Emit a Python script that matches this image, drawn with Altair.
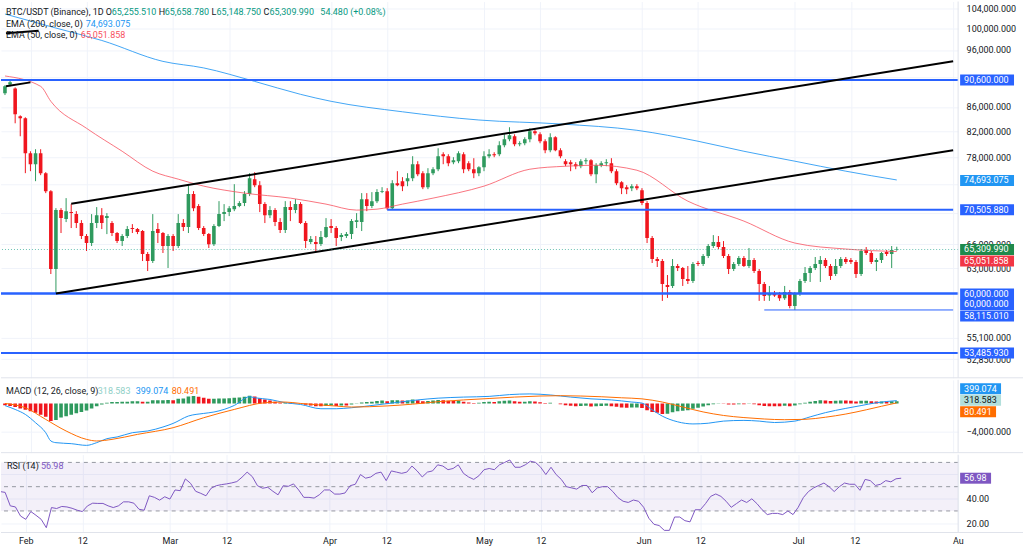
import altair as alt
import numpy as np
import pandas as pd

FONT = "Roboto"
TXT = "#131722"
GRID = "#f0f3fa"
SEP = "#e0e3eb"
UP = "#2f9a5e"
DOWN = "#f0161e"
LEVEL = "#2962ff"
EMA200_C = "#2196f3"
EMA50_C = "#f7525f"

# ---------------- daily candles from 2026-01-27 ----------------
opens = [88290, 89830, 89140, 84460, 84140, 78650, 77000, 78650, 75680, 73100,
         62900, 70470, 69260, 70200, 69930, 68730, 67030, 66130, 68730, 69790,
         69390, 68730, 67420, 66380, 67030, 68070, 67940, 67680, 64740, 63870,
         67940, 67420, 65750, 67030, 65750, 68730, 68200, 72680, 71015, 68070,
         67280, 65990, 68330, 69930, 70200, 70600, 71015, 71430, 72680, 74800,
         73950, 71290, 69790, 70470, 68860, 67810, 70880, 70470, 71290, 68730,
         66250, 66250, 66000, 66900, 68330, 68070, 66900, 67030, 67280, 68860,
         68860, 71980, 71015, 71700, 72960, 73100, 70740, 74230, 74520, 74520,
         74950, 77000, 75680, 73660, 75680, 76260, 78500, 78200, 77300, 77450,
         78500, 77150, 76260, 75680, 76560, 78200, 78500, 78500, 79870, 80800,
         81270, 80020, 80180, 80800, 82060, 81580, 80490, 79100, 81110, 79100,
         77450, 77300, 77000, 76700, 77450, 77600, 75530, 76850, 77150, 77150,
         75970, 74380, 73660, 73520, 73800, 73240, 71430, 66770, 64120, 63870,
         60990, 60870, 63260, 63020, 61700, 61460, 63630, 63510, 64490, 65750,
         66250, 65620, 64490, 62900, 63510, 64240, 63260, 64000, 62650, 61100,
         59770, 60000, 59880, 59430, 60170, 58570, 59940, 61460, 62410, 63020,
         63510, 64000, 63260, 62290, 63260, 64120, 64000, 63750, 62290, 65240,
         64870, 63750, 64000, 64990, 64740, 65255.51]
highs = [89700, 90530, 89310, 84620, 84300, 78950, 79260, 79260, 75830, 73240,
         70740, 70740, 72120, 71290, 70330, 69120, 67280, 69930, 70880, 70740,
         70060, 68990, 67550, 67280, 68330, 68590, 68070, 67810, 64990, 69930,
         68730, 67550, 67280, 67280, 69930, 69260, 74090, 73100, 71290, 68330,
         67420, 68590, 71700, 71290, 71015, 74090, 71700, 73100, 75680, 75820,
         74520, 71560, 71015, 70740, 69390, 71700, 71700, 71980, 71560, 68990,
         67030, 67030, 67680, 69390, 69260, 68330, 67420, 67550, 69260, 70060,
         72820, 72820, 72960, 73380, 73660, 73520, 74660, 75970, 75100, 75680,
         78200, 77450, 75970, 76410, 76560, 79410, 78800, 78500, 78050, 78950,
         78800, 77450, 77900, 76700, 78950, 79260, 78800, 80490, 81580, 82700,
         81580, 80490, 81110, 82540, 82370, 81900, 80800, 81740, 81270, 79410,
         77750, 77600, 77300, 77750, 77900, 77750, 77150, 77450, 77750, 77900,
         76260, 74520, 73950, 74090, 74090, 73520, 71700, 67030, 64370, 64120,
         62170, 64120, 63510, 63140, 63260, 63750, 63870, 64740, 66000, 67150,
         67030, 66380, 64740, 63750, 64490, 64490, 65500, 64240, 62900, 61340,
         60870, 60290, 60170, 60870, 60400, 60170, 61700, 63140, 63260, 64370,
         64490, 64240, 63510, 64120, 64370, 64370, 64240, 64000, 65370, 65620,
         65120, 64240, 64990, 65240, 65750, 65658.78]
lows = [88000, 89490, 83330, 81270, 75680, 75970, 74520, 75390, 72820, 62290,
        60000, 67420, 68860, 68070, 68070, 66640, 65120, 65750, 68070, 67940,
        67280, 67030, 66130, 65750, 66770, 67420, 67280, 63870, 62650, 63630,
        66130, 64870, 63020, 65120, 65500, 67680, 67420, 70330, 67810, 67030,
        65500, 65750, 68200, 68990, 69660, 70330, 70870, 71015, 72400, 73660,
        70200, 68730, 69390, 68330, 67420, 67420, 68990, 70060, 68600, 65500,
        66000, 65120, 65750, 66770, 67420, 65750, 66380, 66770, 66640, 68070,
        67680, 70330, 70740, 71430, 72820, 70505.88, 70600, 73800, 73100, 73800,
        74520, 75240, 73380, 73380, 75390, 75970, 77000, 76700, 77000, 77150,
        75680, 75970, 74950, 75240, 75970, 77900, 78050, 78200, 79560, 80490,
        79720, 79720, 79870, 80330, 81430, 80180, 78650, 78800, 78950, 77900,
        76700, 75970, 76260, 76410, 77000, 75240, 74230, 76560, 76700, 75680,
        73950, 72680, 72680, 73100, 73240, 71150, 66130, 63630, 63140, 59140,
        59480, 60630, 62650, 60870, 61100, 61220, 63260, 63260, 64240, 65500,
        65370, 64240, 62290, 62650, 63260, 63140, 63020, 62410, 59140, 59140,
        59140, 59600, 59140, 59250, 58300, 58115.01, 59710, 61220, 61340, 62770,
        61340, 63020, 61580, 62050, 63020, 63510, 63510, 61820, 62050, 64620,
        63510, 62650, 63630, 64490, 63020, 65148.75]
closes = [89490, 90180, 84790, 84140, 78650, 77000, 78650, 75680, 73100, 62900,
          70470, 69390, 70330, 70070, 68730, 67030, 66130, 68730, 69790, 68730,
          69660, 67420, 66380, 67030, 67940, 67940, 67550, 64740, 63870, 67680,
          67420, 65750, 67030, 65750, 68730, 68200, 72680, 70740, 68070, 67280,
          65990, 68330, 69930, 70200, 70740, 71015, 71430, 72680, 74950, 73950,
          71290, 69790, 70470, 68860, 67810, 70880, 70470, 71290, 68730, 66380,
          66640, 66000, 66900, 68200, 68070, 66770, 67160, 67280, 68990, 69120,
          71980, 71015, 71700, 72960, 73100, 70740, 74230, 73950, 73810, 74950,
          77000, 75530, 73660, 75680, 76260, 78200, 78200, 77150, 77600, 78650,
          76260, 76260, 75680, 76560, 78200, 78500, 78350, 79870, 80800, 81430,
          80020, 80180, 80800, 82060, 81740, 80490, 79100, 81110, 79100, 78200,
          77000, 77000, 76700, 77450, 77600, 75530, 76850, 77150, 77300, 75970,
          74230, 73520, 73380, 73800, 73520, 71430, 66770, 64120, 63870, 61100,
          60750, 63260, 63020, 61700, 61460, 63510, 63510, 64490, 65750, 66250,
          65620, 64490, 62900, 63510, 64240, 63260, 64000, 62650, 61100, 59710,
          60000, 59770, 59430, 60170, 58570, 59940, 61460, 62410, 63020, 63510,
          64000, 63260, 62050, 63260, 64120, 63750, 63750, 62290, 65120, 64870,
          63750, 64000, 64870, 64740, 65255.51, 65309.99]

# RSI (14), one value per candle
rsi = [46.0, 45.3, 34.2, 33.3, 25.8, 23.1, 29.5, 26.4, 23.1, 16.2,
       32.8, 32.0, 33.7, 33.3, 32.2, 30.6, 29.5, 34.2, 36.4, 36.2,
       36.2, 34.2, 32.8, 34.2, 37.5, 37.5, 36.4, 31.4, 30.6, 42.5,
       41.2, 38.9, 41.7, 39.8, 47.3, 46.7, 56.4, 52.8, 46.2, 44.5,
       42.5, 48.7, 50.8, 51.7, 52.3, 53.1, 54.2, 57.8, 62.0, 58.3,
       50.8, 48.7, 49.5, 46.2, 43.3, 50.8, 50.3, 52.3, 47.3, 41.2,
       41.2, 40.6, 43.3, 47.3, 47.3, 43.9, 43.9, 44.8, 50.8, 52.0,
       60.0, 57.0, 58.0, 61.0, 62.0, 55.0, 63.0, 62.0, 61.0, 62.0,
       67.0, 63.0, 58.0, 62.0, 63.0, 68.0, 67.0, 64.0, 65.0, 68.0,
       61.0, 58.0, 56.0, 59.0, 64.0, 65.0, 64.0, 68.0, 70.0, 72.0,
       66.0, 66.0, 68.0, 71.0, 70.0, 66.0, 60.0, 66.0, 60.0, 56.0,
       50.0, 49.0, 48.0, 51.0, 51.0, 45.0, 49.0, 50.0, 50.0, 46.0,
       41.0, 38.0, 37.0, 39.0, 38.0, 33.0, 24.0, 19.0, 18.0, 14.0,
       14.0, 25.0, 25.0, 22.0, 21.0, 31.0, 31.0, 36.0, 42.0, 44.0,
       42.0, 38.0, 33.0, 36.0, 39.0, 37.0, 40.0, 36.0, 31.0, 27.0,
       28.0, 28.0, 27.0, 30.0, 27.0, 33.0, 41.0, 46.0, 49.0, 51.0,
       53.0, 50.0, 46.0, 50.0, 53.0, 52.0, 52.0, 47.0, 56.0, 55.0,
       51.0, 52.0, 55.0, 54.0, 56.5, 56.98]

# MACD histogram (12, 26, 9), one value per candle
hist = [-250, -350, -500, -700, -900, -1100, -1300, -1600, -1900, -2500,
        -2350, -2000, -1800, -1600, -1400, -1200, -1000, -700, -400, -150,
        100, 200, 200, 250, 250, 300, 300, 250, 250, 450,
        450, 450, 500, 450, 650, 700, 1000, 1050, 950, 800,
        650, 650, 700, 700, 750, 800, 850, 950, 1100, 1000,
        750, 550, 400, 250, 100, 100, 50, 30, -50, -200,
        -300, -400, -400, -350, -300, -350, -300, -300, -150, -50,
        150, 200, 250, 350, 400, 300, 450, 450, 400, 400,
        550, 450, 300, 350, 400, 500, 450, 380, 350, 400,
        250, 150, 80, 100, 200, 250, 220, 300, 380, 420,
        300, 250, 250, 300, 280, 180, 50, 100, -20, -120,
        -250, -320, -380, -350, -330, -420, -380, -350, -320, -380,
        -480, -560, -600, -580, -560, -650, -950, -1200, -1300, -1500,
        -1450, -1250, -1100, -1050, -950, -750, -600, -450, -250, -100,
        -50, -50, -150, -150, -100, -120, -50, -120, -250, -350,
        -380, -380, -380, -320, -380, -300, -100, 100, 250, 350,
        450, 430, 350, 380, 420, 400, 380, 280, 380, 380,
        300, 270, 280, 270, 300, 318.583]

# MACD and signal lines (day offset from Feb 1, value)
macd_days = [-5, -3, -1, 1, 3, 4, 5, 8, 11, 13, 15, 17, 20, 23, 26, 28, 31, 34, 36, 40,
             43, 44, 47, 50, 53, 57, 60, 63, 68, 72, 76, 80, 85, 90, 94, 98, 102, 106,
             110, 114, 118, 120, 122, 124, 127, 130, 133, 136, 140, 143, 146, 150, 153,
             156, 160, 163, 166, 170]
macd_vals = [-300, -848, -1554, -2727, -4140, -5313, -5553, -5694, -5935, -5553, -4988,
             -4748, -4140, -3900, -3335, -2826, -1780, -1413, -1215, -283, 947, 805, 565,
             99, -141, -749, -749, -608, -200, 150, 500, 750, 900, 1000, 1250, 1350, 1200,
             900, 650, 500, 200, 50, -900, -1800, -2600, -2900, -2800, -2500, -2400, -2500,
             -2700, -2500, -1900, -1300, -700, -300, 100, 399.074]
signal_days = [-5, -1, 3, 7, 11, 13, 16, 21, 28, 34, 40, 46, 50, 53, 60, 63, 70, 75, 80,
               85, 90, 95, 100, 104, 108, 112, 116, 120, 124, 128, 132, 136, 140, 144,
               148, 152, 156, 160, 164, 167, 170]
signal_vals = [0, -608, -2261, -3900, -5087, -5313, -5087, -4380, -3434, -2021, -848, 99,
               198, 0, -367, -509, -350, -100, 250, 500, 700, 900, 1050, 1100, 1050, 950,
               800, 650, 200, -500, -1200, -1700, -2000, -2200, -2300, -2250, -1950,
               -1500, -900, -400, 80.491]

# moving averages (day offset, price)
ema200_days = [-5, 5, 14, 26, 34, 44, 53, 59, 73, 88, 104, 119, 131, 140, 150, 160, 170]
ema200_vals = [102900, 100150, 97780, 93910, 92730, 90350, 88120, 86940, 85200, 83860,
               83220, 82210, 80490, 78950, 77450, 75970, 74693.075]
ema50_days = [-5, 2, 4, 11, 18, 24, 29, 34, 42, 51, 58, 64, 68, 73, 79, 89, 98, 105, 111,
              119, 129, 140, 150, 160, 170]
ema50_vals = [91300, 89490, 86940, 82530, 78950, 75970, 74810, 73810, 72820, 72120, 71290,
              70470, 70600, 71290, 72120, 73810, 76260, 76700, 76850, 76110, 71700, 68990,
              66130, 65370, 65051.858]

# drawn levels and trend lines
full_levels = [90600, 60000, 60000, 53485.93]
ray_levels = [(70, 70505.88, 2), (144, 58115.01, 1)]
trend_lines = [(5, 60000, 181.06, 79100), (8, 71340, 181.06, 93940),
               (-4.8, 89490, 0, 90180), (-4.8, 99170, 1.6, 99630)]
last_close = 65309.99

# axis ticks (labels) and extra grid rows whose labels sit under value tags
tick_days = [0, 11, 28, 39, 59, 70, 89, 100, 120, 131, 150, 161, 181]
tick_names = ["Feb", "12", "Mar", "12", "Apr", "12", "May", "12", "Jun", "12", "Jul", "12", "Au"]
price_ticks = [104000, 100000, 96000, 86000, 82000, 78000, 66000, 63000, 55100, 52850]
price_grid_extra = [91000, 74000, 70000, 60000]
macd_ticks = [-4000]
rsi_ticks = [20, 40]
rsi_grid_extra = [60]

# ---------------- frames ----------------
dates = pd.date_range("2026-01-27", periods=len(opens), freq="D")
day_num = (dates - pd.Timestamp("2026-02-01")).days.astype(float)
candles = pd.DataFrame({"date": dates.strftime("%Y-%m-%d"), "day": day_num,
                        "open": opens, "high": highs, "low": lows, "close": closes,
                        "rsi": rsi, "hist": hist})
candles["dir"] = np.where(candles["close"] >= candles["open"], "up", "down")
prev = candles["hist"].shift(1).fillna(0)
candles["hcol"] = np.where(candles["hist"] >= 0,
                           np.where(candles["hist"] >= prev, "grow_up", "fall_up"),
                           np.where(candles["hist"] > prev, "fall_dn", "grow_dn"))

W = 959
H_PRICE, H_MACD, H_RSI = 377, 73, 78
xs = alt.Scale(domain=[-4.8, 181.06], nice=False, zero=False)
ys = alt.Scale(type="log", domain=[50981, 105412], nice=False)
ms = alt.Scale(domain=[-6966, 3349], nice=False, zero=False)
rs = alt.Scale(domain=[12.25, 76.4], nice=False, zero=False)
dir_scale = alt.Scale(domain=["up", "down"], range=[UP, DOWN])
hist_scale = alt.Scale(domain=["grow_up", "fall_up", "fall_dn", "grow_dn"],
                       range=["#26a69a", "#b2dfdb", "#ffcdd2", "#ff5252"])

X_GRID = alt.Axis(values=tick_days, labels=False, ticks=False, domain=False, grid=True,
                  gridColor=GRID, title=None)
label_expr = " : ".join(f"datum.value == {d} ? '{n}'" for d, n in zip(tick_days, tick_names)) + " : ''"
X_BOTTOM = alt.Axis(values=tick_days, labelExpr=label_expr, ticks=False, domain=False,
                    grid=True, gridColor=GRID, title=None, labelFlush=False,
                    labelOverlap=False, labelPadding=4, labelFontSize=9, labelColor=TXT,
                    labelFont=FONT)


def right_axis(values, fmt):
    return alt.Axis(orient="right", values=values, format=fmt, ticks=False, domain=False,
                    grid=True, gridColor=GRID, title=None, labelPadding=8,
                    labelOverlap=False, labelFontSize=9, labelColor=TXT, labelFont=FONT)


PRICE_AXIS = right_axis(price_ticks, ",.3f")
MACD_AXIS = right_axis(macd_ticks, ",.3f")
RSI_AXIS = right_axis(rsi_ticks, ".2f")


# every layer of a pane carries the same axis so the shared axis stays enabled
def pane_x(field, axis):
    return alt.X(field, scale=xs, axis=axis)


def price_y(field):
    return alt.Y(field, scale=ys, axis=PRICE_AXIS)


def macd_y(field):
    return alt.Y(field, scale=ms, axis=MACD_AXIS)


def rsi_y(field):
    return alt.Y(field, scale=rs, axis=RSI_AXIS)


ONE = pd.DataFrame({"k": [0]})


def texts(items):
    layers = []
    for label, px, py, color in items:
        layers.append(alt.Chart(ONE).mark_text(
            align="left", baseline="middle", font=FONT, fontSize=9, color=color).encode(
            x=alt.value(px), y=alt.value(py), text=alt.value(label)))
    return layers


def value_box(value, label, fill, ink, ych, dy, x2):
    df = pd.DataFrame({"v": [value], "t": [label]})
    base = alt.Chart(df)
    box = base.mark_rect(color=fill, yOffset=dy - 5.5, y2Offset=dy + 5.5).encode(
        x=alt.value(961), x2=alt.value(x2), y=ych("v:Q"), y2=alt.Y2("v:Q"))
    txt = base.mark_text(align="left", baseline="middle", font=FONT, fontSize=9,
                         color=ink, dy=dy).encode(
        x=alt.value(965), y=ych("v:Q"), text="t:N")
    return [box, txt]


def grid_rows(values, ych):
    return alt.Chart(pd.DataFrame({"v": values})).mark_rule(color=GRID, strokeWidth=1).encode(
        y=ych("v:Q"))


def frame(height):
    vline = alt.Chart(ONE).mark_rule(color=SEP, strokeWidth=1).encode(
        x=alt.value(W), y=alt.value(0), y2=alt.value(height))
    hline = alt.Chart(ONE).mark_rule(color=SEP, strokeWidth=1).encode(
        x=alt.value(0), x2=alt.value(1024), y=alt.value(height))
    return [vline, hline]


# ---------------- price pane ----------------
cbase = alt.Chart(candles)
wicks = cbase.mark_rule(strokeWidth=1, clip=True).encode(
    x=pane_x("day:Q", X_GRID), y=price_y("low:Q"), y2="high:Q",
    color=alt.Color("dir:N", scale=dir_scale, legend=None))
bodies = cbase.mark_bar(size=3.6, clip=True).encode(
    x=pane_x("day:Q", X_GRID), y=price_y("open:Q"), y2="close:Q",
    color=alt.Color("dir:N", scale=dir_scale, legend=None))

ema200 = alt.Chart(pd.DataFrame({"day": ema200_days, "v": ema200_vals})).mark_line(
    color=EMA200_C, strokeWidth=1, interpolate="monotone", clip=True, opacity=0.85).encode(
    x=pane_x("day:Q", X_GRID), y=price_y("v:Q"))
ema50 = alt.Chart(pd.DataFrame({"day": ema50_days, "v": ema50_vals})).mark_line(
    color=EMA50_C, strokeWidth=1, interpolate="monotone", clip=True, opacity=0.8).encode(
    x=pane_x("day:Q", X_GRID), y=price_y("v:Q"))

full = alt.Chart(pd.DataFrame({"v": full_levels})).mark_rule(color=LEVEL, strokeWidth=2).encode(
    y=price_y("v:Q"))
ray_layers = []
for start, val, w in ray_levels:
    ray_layers.append(alt.Chart(pd.DataFrame({"d0": [start], "d1": [181.06], "v": [val]}))
                      .mark_rule(color=LEVEL, strokeWidth=w, clip=True).encode(
        x=pane_x("d0:Q", X_GRID), x2="d1:Q", y=price_y("v:Q")))
tl = pd.DataFrame(trend_lines, columns=["d0", "v0", "d1", "v1"])
trends = alt.Chart(tl).mark_rule(color="#000000", strokeWidth=2, clip=True).encode(
    x=pane_x("d0:Q", X_GRID), x2="d1:Q", y=price_y("v0:Q"), y2="v1:Q")
close_line = alt.Chart(pd.DataFrame({"v": [last_close]})).mark_rule(
    color="#089981", strokeWidth=1, strokeDash=[1, 2], opacity=0.6).encode(
    y=price_y("v:Q"))

G = "#089981"
price_header = texts([
    ("BTC/USDT (Binance), 1D", 5, 10.5, TXT),
    ("O", 105, 10.5, TXT), ("65,255.510", 111, 10.5, G),
    ("H", 158, 10.5, TXT), ("65,658.780", 164, 10.5, G),
    ("L", 211, 10.5, TXT), ("65,148.750", 216, 10.5, G),
    ("C", 263, 10.5, TXT), ("65,309.990", 269, 10.5, G),
    ("54.480 (+0.08%)", 320, 10.5, G),
    ("EMA (200, close, 0)", 5, 22.5, TXT), ("74,693.075", 85, 22.5, EMA200_C),
    ("EMA (50, close, 0)", 5, 33.5, TXT), ("65,051.858", 80, 33.5, EMA50_C),
])

price_boxes = []
for v, t, fill, dy in [(90600, "90,600.000", LEVEL, 0), (74693.075, "74,693.075", EMA200_C, 0.5),
                       (70505.88, "70,505.880", LEVEL, 0), (65309.99, "65,309.990", "#1f8a4c", 0),
                       (65051.858, "65,051.858", "#f23645", 9.5), (60000, "60,000.000", LEVEL, 0.5),
                       (60000, "60,000.000", LEVEL, 11), (58115.01, "58,115.010", LEVEL, 6),
                       (53485.93, "53,485.930", LEVEL, 0)]:
    price_boxes += value_box(v, t, fill, "white", price_y, dy, 1015)

price = alt.layer(grid_rows(price_grid_extra, price_y), wicks, bodies, ema200, ema50, full,
                  *ray_layers, trends, close_line, *price_header, *price_boxes,
                  *frame(H_PRICE)).properties(width=W, height=H_PRICE)

# ---------------- MACD pane ----------------
hbars = cbase.mark_bar(size=3.6, clip=True).encode(
    x=pane_x("day:Q", X_GRID), y=macd_y("hist:Q"), y2=alt.datum(0),
    color=alt.Color("hcol:N", scale=hist_scale, legend=None))
macd_line = alt.Chart(pd.DataFrame({"day": macd_days, "v": macd_vals})).mark_line(
    color="#2196f3", strokeWidth=1, interpolate="monotone", clip=True).encode(
    x=pane_x("day:Q", X_GRID), y=macd_y("v:Q"))
signal_line = alt.Chart(pd.DataFrame({"day": signal_days, "v": signal_vals})).mark_line(
    color="#ff6d00", strokeWidth=1, interpolate="monotone", clip=True).encode(
    x=pane_x("day:Q", X_GRID), y=macd_y("v:Q"))
macd_header = texts([
    ("MACD (12, 26, close, 9)", 5, 11.5, TXT), ("318.583", 97, 11.5, "#8fd0c7"),
    ("399.074", 135, 11.5, "#2196f3"), ("80.491", 171, 11.5, "#ff6d00")])
macd_boxes = (value_box(399.074, "399.074", "#2196f3", "white", macd_y, -12, 1002)
              + value_box(318.583, "318.583", "#b2dfdb", TXT, macd_y, -1, 1002)
              + value_box(80.491, "80.491", "#ff6d00", "white", macd_y, 9, 997))
macd = alt.layer(hbars, macd_line, signal_line, *macd_header, *macd_boxes,
                 *frame(H_MACD)).properties(width=W, height=H_MACD)

# ---------------- RSI pane ----------------
band = alt.Chart(pd.DataFrame({"hi": [70], "lo": [30]})).mark_rect(
    color="#7e57c2", opacity=0.09).encode(y=rsi_y("hi:Q"), y2="lo:Q")
guides = alt.Chart(pd.DataFrame({"v": [70, 50, 30]})).mark_rule(
    color="#9598a1", strokeWidth=1, strokeDash=[4, 4]).encode(y=rsi_y("v:Q"))
rsi_line = cbase.mark_line(color="#7e57c2", strokeWidth=1, clip=True).encode(
    x=pane_x("day:Q", X_BOTTOM), y=rsi_y("rsi:Q"))
rsi_header = texts([("RSI (14)", 6, 11, TXT), ("56.98", 40, 11, "#7e57c2")])
rsi_box = value_box(56.98, "56.98", "#7e57c2", "white", rsi_y, 0, 992)
rsi_pane = alt.layer(grid_rows(rsi_grid_extra, rsi_y), band, guides, rsi_line, *rsi_header,
                     *rsi_box, *frame(H_RSI)).properties(width=W, height=H_RSI)

chart = alt.vconcat(price, macd, rsi_pane, spacing=0).properties(
    padding={"left": 0, "top": 0, "right": 0, "bottom": 0}, background="white"
).configure_view(stroke=None).configure_axis(labelFont=FONT)

chart.save("out.html", embed_options={"renderer": "svg", "actions": False})
